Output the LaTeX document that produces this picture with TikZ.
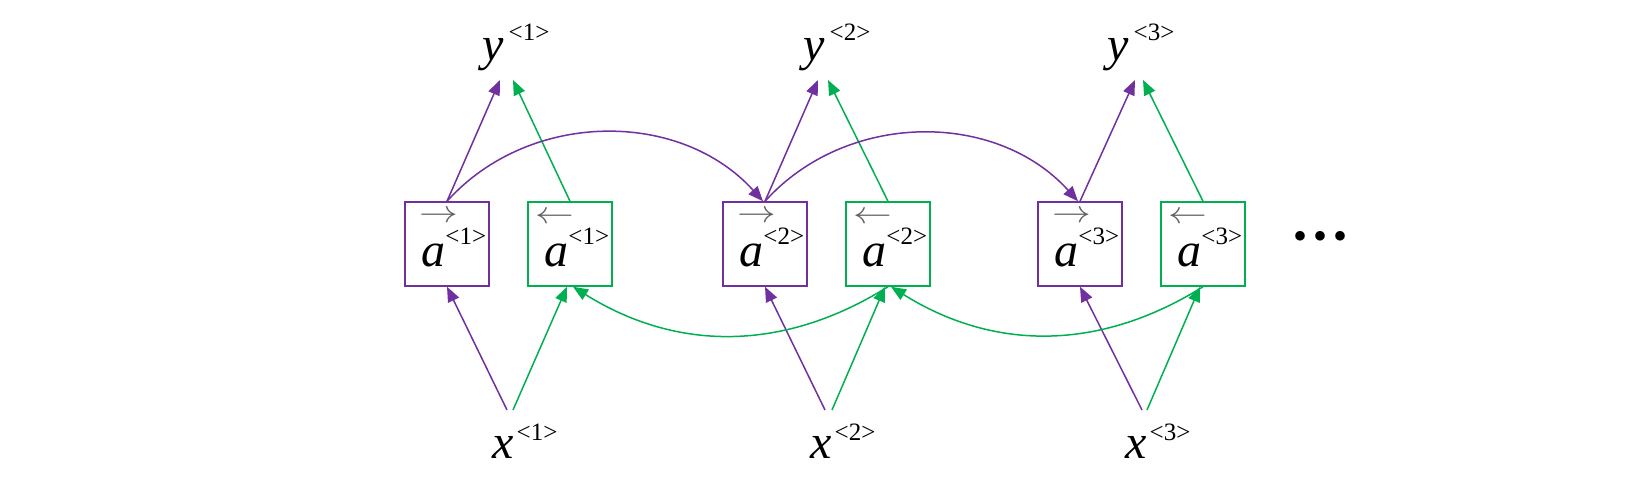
\documentclass[tikz,border=0pt]{standalone}
\usepackage{fontspec}
\setmainfont{Liberation Serif}
\usetikzlibrary{arrows.meta}
\definecolor{pur}{HTML}{7030A0}
\definecolor{grn}{HTML}{00B050}
\definecolor{arrg}{HTML}{606060}
\newcommand\mylet[4]{{\fontsize{24}{24}\selectfont\itshape #1}\kern#3\raisebox{#4}{\fontsize{12.5}{12.5}\selectfont <#2>}}
\newcommand\myvec[1]{\scalebox{1.12}[0.9]{$#1$}}
\begin{document}
\begin{tikzpicture}[x=0.5pt,y=0.5pt,
  boxp/.style={draw=pur, line width=0.75pt, minimum width=42pt, minimum height=42pt, inner sep=0pt},
  boxg/.style={boxp, draw=grn},
  txt/.style={anchor=base west, inner sep=0pt},
  vecp/.style={inner sep=0pt, text=arrg, font=\fontsize{17}{17}\selectfont},
  parr/.style={draw=pur, line width=0.75pt, -{Triangle[length=7.5pt,width=6pt]}},
  garr/.style={parr, draw=grn}]
\useasboundingbox (0,0) rectangle (1632,-486);
% boxes
\node[boxp] (b1) at (447,-244) {};
\node[boxg] (b2) at (570,-244) {};
\node[boxp] (b3) at (765,-244) {};
\node[boxg] (b4) at (888,-244) {};
\node[boxp] (b5) at (1080,-244) {};
\node[boxg] (b6) at (1203,-244) {};
% box contents
\node[txt] (a1) at (421,-267) {\mylet{a}{1}{0pt}{11pt}};
\node[txt] (a2) at (544,-267) {\mylet{a}{1}{0pt}{11pt}};
\node[txt] (a3) at (739,-267) {\mylet{a}{2}{0pt}{11pt}};
\node[txt] (a4) at (862,-267) {\mylet{a}{2}{0pt}{11pt}};
\node[txt] (a5) at (1054,-267) {\mylet{a}{3}{0pt}{11pt}};
\node[txt] (a6) at (1177,-267) {\mylet{a}{3}{0pt}{11pt}};
\node[vecp] (v1) at (438.5,-217) {\myvec{\rightarrow}};
\node[vecp] (v2) at (554.5,-218) {\myvec{\leftarrow}};
\node[vecp] (v3) at (756.5,-217) {\myvec{\rightarrow}};
\node[vecp] (v4) at (872.5,-218) {\myvec{\leftarrow}};
\node[vecp] (v5) at (1071.5,-217) {\myvec{\rightarrow}};
\node[vecp] (v6) at (1187.5,-218) {\myvec{\leftarrow}};
% outputs
\node[txt] (y1) at (482,-61) {\mylet{y}{1}{2.5pt}{10pt}};
\node[txt] (y2) at (803,-61) {\mylet{y}{2}{2.5pt}{10pt}};
\node[txt] (y3) at (1107,-61) {\mylet{y}{3}{2.5pt}{10pt}};
% inputs
\node[txt] (x1) at (492,-458) {\mylet{x}{1}{1.5pt}{9pt}};
\node[txt] (x2) at (810,-458) {\mylet{x}{2}{1.5pt}{9pt}};
\node[txt] (x3) at (1125,-458) {\mylet{x}{3}{1.5pt}{9pt}};
% dots
\node[inner sep=0pt] (dots) at (1320,-240) {\fontsize{20}{20}\selectfont •\kern3pt•\kern3pt•};
% connector ends
\coordinate (y1p) at (500,-80);
\coordinate (y1g) at (513,-80);
\coordinate (y2p) at (818,-80);
\coordinate (y2g) at (828,-80);
\coordinate (y3p) at (1135,-80);
\coordinate (y3g) at (1143,-80);
\coordinate (x1p) at (507,-410);
\coordinate (x1g) at (513,-410);
\coordinate (x2p) at (825,-410);
\coordinate (x2g) at (832,-410);
\coordinate (x3p) at (1142,-410);
\coordinate (x3g) at (1147,-410);
% up to outputs
\draw[parr] (b1.north) -- (y1p);
\draw[garr] (b2.north) -- (y1g);
\draw[parr] (b3.north) -- (y2p);
\draw[garr] (b4.north) -- (y2g);
\draw[parr] (b5.north) -- (y3p);
\draw[garr] (b6.north) -- (y3g);
% from inputs
\draw[parr] (x1p) -- (b1.south);
\draw[garr] (x1g) -- ([xshift=-1.5pt]b2.south);
\draw[parr] (x2p) -- (b3.south);
\draw[garr] (x2g) -- ([xshift=-1.5pt]b4.south);
\draw[parr] (x3p) -- (b5.south);
\draw[garr] (x3g) -- ([xshift=-1.5pt]b6.south);
% recurrent arcs
\draw[parr] (b1.north) to[out=48,in=132] ([xshift=-1pt]b3.north);
\draw[parr] (b3.north) to[out=48,in=132] ([xshift=-1pt]b5.north);
\draw[garr] (b4.south) to[out=212,in=-32] ([xshift=1.5pt]b2.south);
\draw[garr] (b6.south) to[out=212,in=-32] ([xshift=1.5pt]b4.south);
\end{tikzpicture}
\end{document}
